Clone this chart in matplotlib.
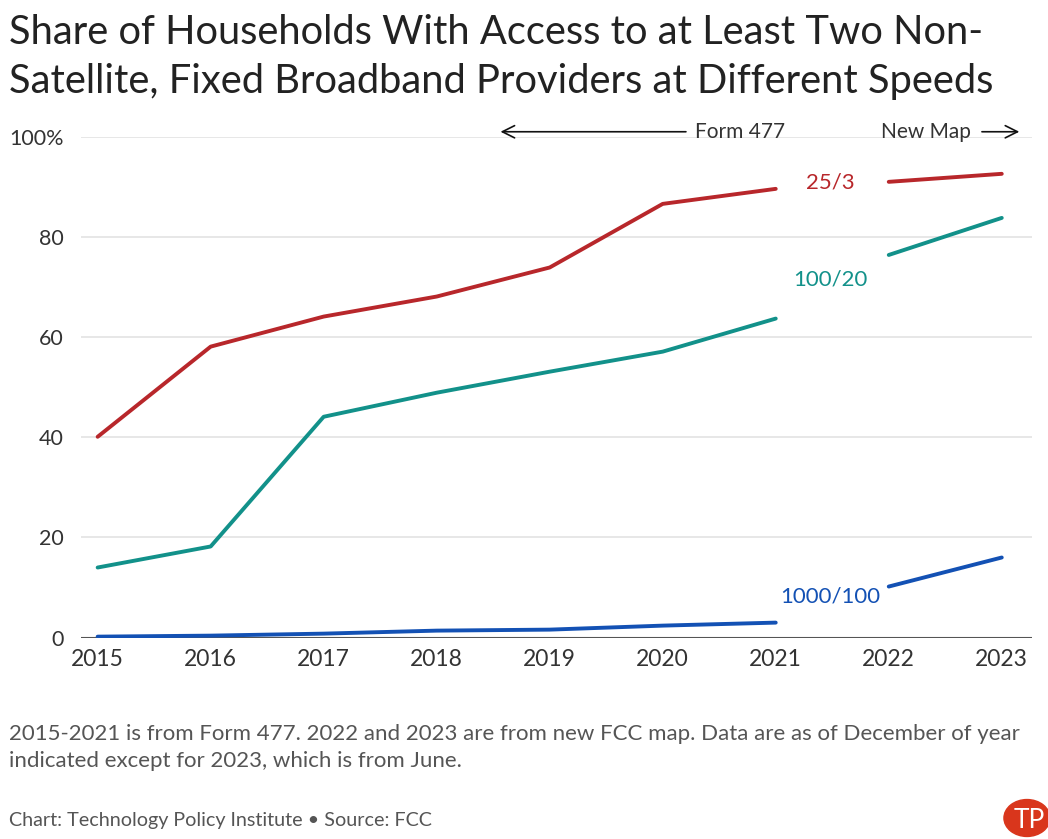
import matplotlib.pyplot as plt
from matplotlib.patches import Circle

plt.rcParams['font.family'] = ['Lato', 'DejaVu Sans']

years = [2015, 2016, 2017, 2018, 2019, 2020, 2021, 2022, 2023]
speed_25_3 = [40.1, 58.1, 64.1, 68.1, 73.9, 86.6, 89.6, 91.0, 92.6]
speed_100_20 = [14.0, 18.2, 44.1, 48.9, 53.1, 57.1, 63.7, 76.4, 83.8]
speed_1000_100 = [0.2, 0.4, 0.8, 1.4, 1.6, 2.4, 3.0, 10.2, 16.0]
y_ticks = [0, 20, 40, 60, 80, 100]
y_labels = ["0", "20", "40", "60", "80", "100%"]

series = [
    ("25/3", speed_25_3, "#b8272b", 2021.48, 90.8),
    ("100/20", speed_100_20, "#12918a", 2021.48, 71.5),
    ("1000/100", speed_1000_100, "#1351b4", 2021.48, 8.2),
]

fig = plt.figure(figsize=(10.48, 8.39), dpi=100)
ax = fig.add_axes([0.077, 0.24, 0.908, 0.597])

# Form 477 years (2015-2021) and new map years (2022-2023) are drawn as separate pieces
for name, vals, color, lx, ly in series:
    ax.plot(years[:7], vals[:7], color=color, lw=2.8, solid_capstyle='round')
    ax.plot(years[7:], vals[7:], color=color, lw=2.8, solid_capstyle='round')
    ax.text(lx, ly, name, color=color, fontsize=16, ha='center', va='center')

ax.set_xlim(2014.85, 2023.27)
ax.set_ylim(0, 100)
ax.set_xticks(years)
ax.set_xticklabels([str(y) for y in years], fontsize=16.5, color="#333333")
ax.set_yticks(y_ticks)
ax.set_yticklabels(y_labels, fontsize=15.5, color="#333333")
ax.tick_params(axis='both', length=0, pad=8)
ax.tick_params(axis='y', pad=12)
ax.grid(axis='y', color="#e3e3e3", lw=1.2)
ax.set_axisbelow(True)
for s in ax.spines.values():
    s.set_visible(False)
ax.axhline(0, color="#555555", lw=1.5, zorder=1)

# source period annotations along the top
ax.annotate("", xy=(2018.54, 101), xytext=(2020.23, 101),
            arrowprops=dict(arrowstyle="->", color="#111111", lw=1.2, mutation_scale=22),
            annotation_clip=False)
ax.text(2020.29, 101, "Form 477", fontsize=15, color="#333333", va='center', ha='left')
ax.text(2022.73, 101, "New Map", fontsize=15, color="#333333", va='center', ha='right')
ax.annotate("", xy=(2023.18, 101), xytext=(2022.80, 101),
            arrowprops=dict(arrowstyle="->", color="#111111", lw=1.2, mutation_scale=22),
            annotation_clip=False)

fig.text(0.009, 0.983, "Share of Households With Access to at Least Two Non-\nSatellite, Fixed Broadband Providers at Different Speeds",
         fontsize=28.7, color="#222222", va='top', ha='left', linespacing=1.38)

fig.text(0.009, 0.109, "2015-2021 is from Form 477. 2022 and 2023 are from new FCC map. Data are as of December of year\nindicated except for 2023, which is from June.",
         fontsize=16, color="#555555", va='center', ha='left', linespacing=1.45)
fig.text(0.009, 0.022, "Chart: Technology Policy Institute \u2022 Source: FCC",
         fontsize=14.2, color="#555555", va='center', ha='left')

# logo badge
badge = Circle((1027 / 1048, 21 / 839), 0.022, transform=fig.transFigure,
               color="#d9361c", clip_on=False)
fig.patches.append(badge)
fig.text(1029 / 1048, 19 / 839, "TP", color="white", fontsize=19, ha='center', va='center')

fig.savefig("out.png", dpi=100)
